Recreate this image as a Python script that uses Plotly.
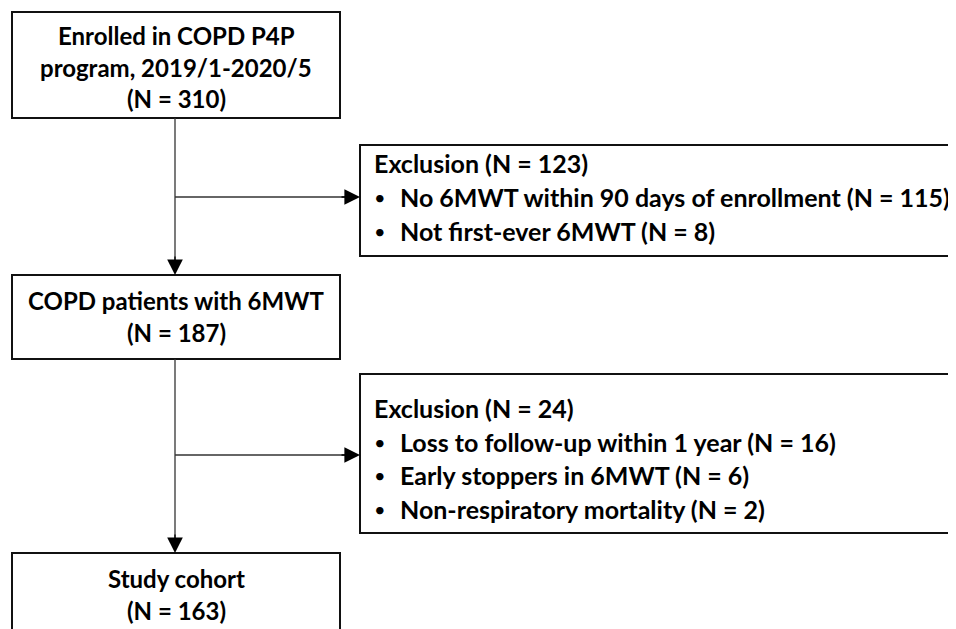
import plotly.graph_objects as go

# ---- data ----
main_titles = ["Enrolled in COPD P4P<br>program, 2019/1-2020/5", "COPD patients with 6MWT", "Study cohort"]
main_counts = [310, 187, 163]
excl_totals = [123, 24]
excl1_reasons = ["No 6MWT within 90 days of enrollment", "Not first-ever 6MWT"]
excl1_counts = [115, 8]
excl2_reasons = ["Loss to follow-up within 1 year", "Early stoppers in 6MWT", "Non-respiratory mortality"]
excl2_counts = [16, 6, 2]

W, H = 956, 629
OFF = 8  # page body margin
FONT = "Lato"
FS_MAIN = 24
FS_EXCL = 25
DARK = "#111111"

fig = go.Figure()
fig.add_trace(go.Scatter(x=[OFF, W + OFF], y=[OFF, H + OFF], mode="markers", marker=dict(opacity=0),
                         hoverinfo="skip", showlegend=False))

main_boxes = [(12, 12, 340, 118), (12, 275, 340, 359), (12, 553, 340, 680)]
excl_boxes = [(360, 145, 990, 256), (360, 374, 990, 533)]

shapes = []
for (x0, y0, x1, y1) in main_boxes + excl_boxes:
    shapes.append(dict(type="rect", x0=x0, y0=y0, x1=x1, y1=y1, xref="x", yref="y",
                       line=dict(color=DARK, width=2), fillcolor="rgba(0,0,0,0)"))

cx = 175
LC = "#333333"
shapes.append(dict(type="line", x0=cx, x1=cx, y0=118, y1=264, xref="x", yref="y", line=dict(color=LC, width=1.3)))
shapes.append(dict(type="line", x0=cx, x1=cx, y0=359, y1=542, xref="x", yref="y", line=dict(color=LC, width=1.3)))
shapes.append(dict(type="line", x0=cx, x1=349, y0=197, y1=197, xref="x", yref="y", line=dict(color=LC, width=1.3)))
shapes.append(dict(type="line", x0=cx, x1=349, y0=455, y1=455, xref="x", yref="y", line=dict(color=LC, width=1.3)))

annotations = []
def arrow(x, y, ax, ay):
    annotations.append(dict(x=x, y=y, ax=ax, ay=ay, xref="x", yref="y", axref="x", ayref="y",
                            showarrow=True, arrowhead=2, arrowsize=2.4, arrowwidth=1.3,
                            arrowcolor="#000", text="", standoff=0))

arrow(cx, 275, cx, 255)
arrow(cx, 553, cx, 533)
arrow(360, 197, 340, 197)
arrow(360, 455, 340, 455)

t0 = main_titles[0].split("<br>")
main_lines = [
    [t0[0], t0[1], f"(N = {main_counts[0]})"],
    [main_titles[1], f"(N = {main_counts[1]})"],
    [main_titles[2], f"(N = {main_counts[2]})"],
]
main_line_y = [[35, 67, 98], [300, 332], [578, 610]]
for lines, ys in zip(main_lines, main_line_y):
    for t, y in zip(lines, ys):
        annotations.append(dict(x=176, y=y, xref="x", yref="y", text=f"<b>{t}</b>", showarrow=False,
                                xanchor="center", yanchor="middle",
                                font=dict(family=FONT, size=FS_MAIN, color="black")))

def excl_block(total, reasons, counts, y0, dy):
    annotations.append(dict(x=372, y=y0, xref="x", yref="y", text=f"<b>Exclusion (N = {total})</b>",
                            showarrow=False, xanchor="left", yanchor="middle",
                            font=dict(family=FONT, size=FS_EXCL, color="black")))
    for i, (r, c) in enumerate(zip(reasons, counts)):
        y = y0 + dy * (i + 1)
        annotations.append(dict(x=372, y=y, xref="x", yref="y", text="•", showarrow=False,
                                xanchor="left", yanchor="middle",
                                font=dict(family=FONT, size=20, color="black")))
        annotations.append(dict(x=398, y=y, xref="x", yref="y", text=f"<b>{r} (N = {c})</b>",
                                showarrow=False, xanchor="left", yanchor="middle",
                                font=dict(family=FONT, size=FS_EXCL, color="black")))

excl_block(excl_totals[0], excl1_reasons, excl1_counts, 163, 34)
excl_block(excl_totals[1], excl2_reasons, excl2_counts, 408, 33.7)

fig.update_layout(
    width=W, height=H, margin=dict(l=0, r=0, t=0, b=0),
    paper_bgcolor="white", plot_bgcolor="white",
    xaxis=dict(range=[OFF, W + OFF], visible=False, fixedrange=True),
    yaxis=dict(range=[H + OFF, OFF], visible=False, fixedrange=True),
    shapes=shapes, annotations=annotations, showlegend=False,
)
fig.write_html("out.html")
